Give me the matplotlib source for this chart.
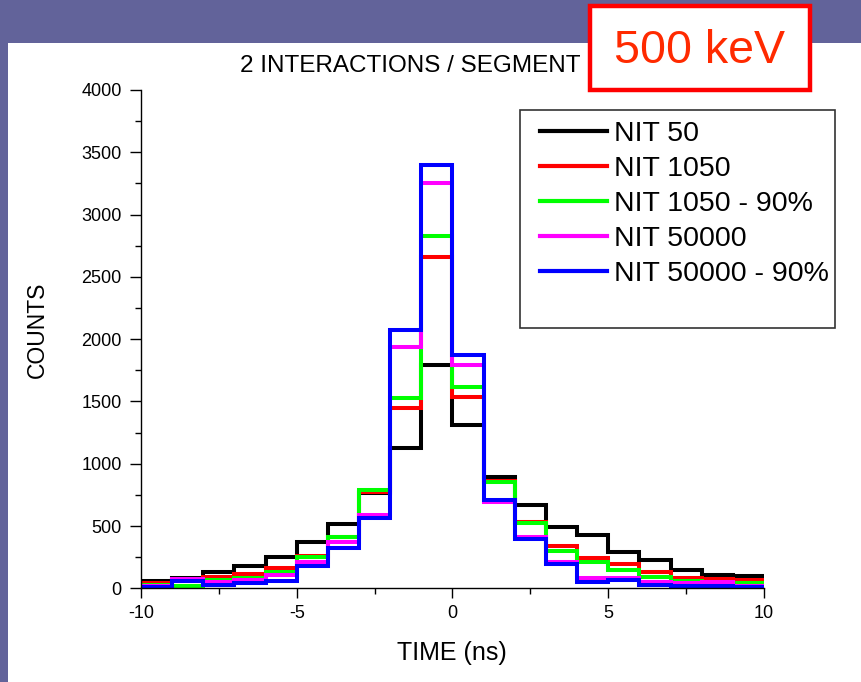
import numpy as np
import matplotlib
matplotlib.use("Agg")
import matplotlib.pyplot as plt
from matplotlib.patches import Rectangle
from matplotlib.ticker import MultipleLocator

plt.rcParams['font.family'] = ['Liberation Sans', 'DejaVu Sans']
plt.rcParams['axes.unicode_minus'] = False

# bin edges (ns) and counts
edges = np.arange(-10, 11, 1)
nit50 = [55, 85, 133, 181, 254, 370, 520, 763, 1128, 1792,
         1310, 895, 665, 495, 425, 288, 226, 145, 110, 100]
nit1050 = [45, 70, 90, 112, 162, 257, 412, 770, 1445, 2662,
           1534, 860, 535, 340, 246, 192, 133, 80, 75, 66]
nit1050_90 = [26, 15, 70, 86, 133, 254, 410, 789, 1526, 2830,
              1614, 856, 522, 298, 214, 147, 93, 55, 48, 40]
nit50000 = [15, 72, 53, 66, 107, 214, 374, 589, 1940, 3250,
            1793, 695, 410, 209, 80, 80, 53, 45, 48, 20]
nit50000_90 = [8, 58, 26, 40, 62, 179, 321, 562, 2074, 3394,
               1873, 709, 396, 198, 53, 67, 26, 20, 18, 10]

series = [
    ("NIT 50", nit50, "black"),
    ("NIT 1050", nit1050, "#ff0000"),
    ("NIT 1050 - 90%", nit1050_90, "#00ff00"),
    ("NIT 50000", nit50000, "#ff00ff"),
    ("NIT 50000 - 90%", nit50000_90, "#0000ff"),
]

W, H = 862, 682
fig = plt.figure(figsize=(W / 100, H / 100), dpi=100)
fig.patch.set_facecolor("#62639a")

# white slide panel
fig.patches.append(Rectangle((8 / W, 0), 1 - 8 / W, 1 - 43 / H, transform=fig.transFigure,
                             facecolor="white", edgecolor="none", zorder=-1))

ax = fig.add_axes([141 / W, 1 - 588.3 / H, (764 - 141) / W, (588.3 - 90) / H])
ax.set_zorder(1)
ax.patch.set_alpha(0)

for label, vals, col in series:
    ax.stairs(vals, edges, baseline=None, color=col, linewidth=2.9, label=label)

ax.set_xlim(-10, 10)
ax.set_ylim(0, 4000)
ax.spines['top'].set_visible(False)
ax.spines['right'].set_visible(False)
for s in ('left', 'bottom'):
    ax.spines[s].set_linewidth(1.0)
ax.xaxis.set_major_locator(MultipleLocator(5))
ax.xaxis.set_minor_locator(MultipleLocator(2.5))
ax.yaxis.set_major_locator(MultipleLocator(500))
ax.yaxis.set_minor_locator(MultipleLocator(250))
ax.tick_params(which='major', direction='out', length=7, width=1, labelsize=13, pad=5)
ax.tick_params(which='minor', direction='out', length=4, width=1)
ax.tick_params(axis='y', which='major', length=8, pad=6)

fig.text(37 / W, 1 - 330 / H, "COUNTS", rotation=90, ha='center', va='center', fontsize=16.5)
fig.text(452 / W, 1 - 653 / H, "TIME (ns)", ha='center', va='center', fontsize=18)
fig.text(410 / W, 1 - 66 / H, "2 INTERACTIONS / SEGMENT", ha='center', va='center', fontsize=17.5)

# legend with its own frame
fig.patches.append(Rectangle((520 / W, 1 - 328 / H), 315 / W, 218 / H, transform=fig.transFigure,
                             facecolor="white", edgecolor="#333333", linewidth=1.2, zorder=2))
handles, labels = ax.get_legend_handles_labels()
leg = fig.legend(handles, labels, loc='upper left', bbox_to_anchor=(540 / W, 1 - 121 / H),
                 frameon=False, fontsize=20.5, handlelength=2.35, handletextpad=0.25,
                 labelspacing=0.32, borderpad=0, borderaxespad=0)
leg.set_zorder(3)
for ln in leg.get_lines():
    ln.set_linewidth(3)

# "500 keV" box
fig.patches.append(Rectangle((590 / W, 1 - 90 / H), 220 / W, 84 / H, transform=fig.transFigure,
                             facecolor="white", edgecolor="#ff0000", linewidth=3.2, zorder=4))
fig.text(700 / W, 1 - 51 / H, "500 keV", ha='center', va='center', fontsize=33.5,
         color="#ff2a00", zorder=5)

fig.savefig("out.png", dpi=100)
